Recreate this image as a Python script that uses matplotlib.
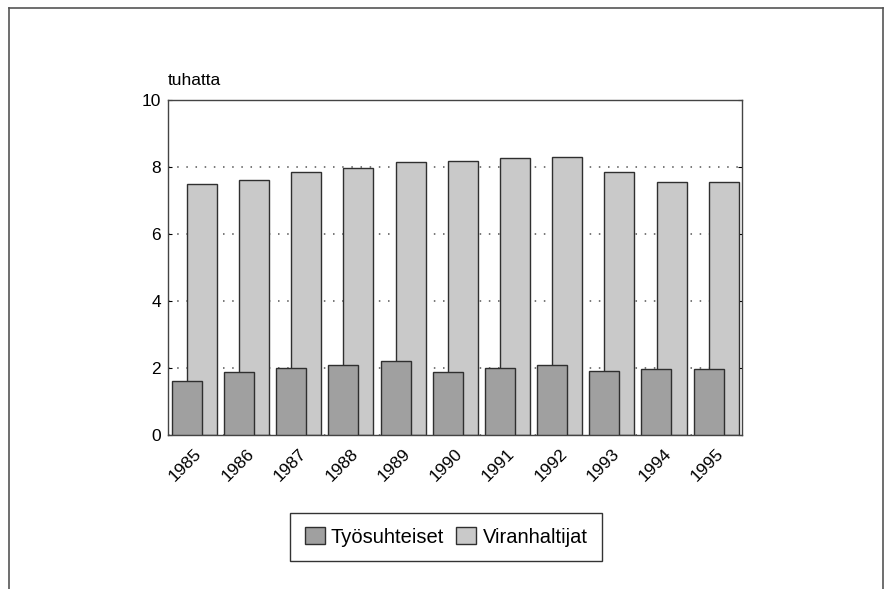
import numpy as np
import matplotlib
matplotlib.use("Agg")
import matplotlib.pyplot as plt
from matplotlib.patches import Patch
from matplotlib.lines import Line2D

years = ["1985", "1986", "1987", "1988", "1989", "1990",
         "1991", "1992", "1993", "1994", "1995"]
tyosuhteiset = [1.61, 1.88, 2.01, 2.10, 2.21, 1.89, 1.99, 2.09, 1.90, 1.97, 1.96]
viranhaltijat = [7.50, 7.62, 7.85, 7.97, 8.14, 8.19, 8.27, 8.29, 7.84, 7.55, 7.54]

DARK = "#a0a0a0"
LIGHT = "#c9c9c9"
EDGE = "#2f2f2f"

plt.rcParams["font.family"] = ["Liberation Sans", "DejaVu Sans"]

fig = plt.figure(figsize=(8.87, 5.89), dpi=100)
ax = fig.add_axes([168 / 887, 1 - 435 / 589, 574 / 887, 335 / 589])

x = np.arange(len(years))
w = 0.575
ax.bar(x + 0.15, viranhaltijat, width=w, color=LIGHT, edgecolor=EDGE,
       linewidth=1.0, zorder=2)
ax.bar(x - 0.14, tyosuhteiset, width=w, color=DARK, edgecolor=EDGE,
       linewidth=1.0, zorder=3)

ax.set_xlim(-0.5, len(years) - 0.5)
ax.set_ylim(0, 10)
ax.set_yticks([0, 2, 4, 6, 8, 10])
ax.yaxis.grid(True, linestyle=(0, (1, 5)), color="#555555", linewidth=1.1, zorder=1)
ax.set_axisbelow(True)

ax.set_xticks(x)
ax.set_xticklabels(years, rotation=45, ha="right", rotation_mode="anchor")
ax.tick_params(axis="x", length=0, pad=8, labelsize=12.5)
ax.tick_params(axis="y", direction="in", length=3, left=True, right=True,
               labelsize=12.5, pad=5)
for s in ax.spines.values():
    s.set_color("#444444")
    s.set_linewidth(1.0)

ax.text(0, 1.036, "tuhatta", transform=ax.transAxes, ha="left", va="bottom",
        fontsize=12.5)

handles = [Patch(facecolor=DARK, edgecolor=EDGE, label="Työsuhteiset"),
           Patch(facecolor=LIGHT, edgecolor=EDGE, label="Viranhaltijat")]
leg = fig.legend(handles=handles, loc="center", bbox_to_anchor=(446 / 887, 1 - 537 / 589),
                 ncol=2, fontsize=14.5, frameon=True, fancybox=False, framealpha=1,
                 edgecolor="#333333", handlelength=1.0, handleheight=0.9,
                 handletextpad=0.3, columnspacing=0.6, borderpad=0.7)
leg.get_frame().set_linewidth(1.0)

# outer frame of the page figure (open at the bottom)
fx0, fx1, fy1 = 9 / 887, 883 / 887, 1 - 8 / 589
for xs, ys in [([fx0, fx0], [0, fy1]), ([fx0, fx1], [fy1, fy1]), ([fx1, fx1], [fy1, 0])]:
    fig.add_artist(Line2D(xs, ys, color="#555555", linewidth=1.2))

fig.savefig("out.png", dpi=100, facecolor="white")
